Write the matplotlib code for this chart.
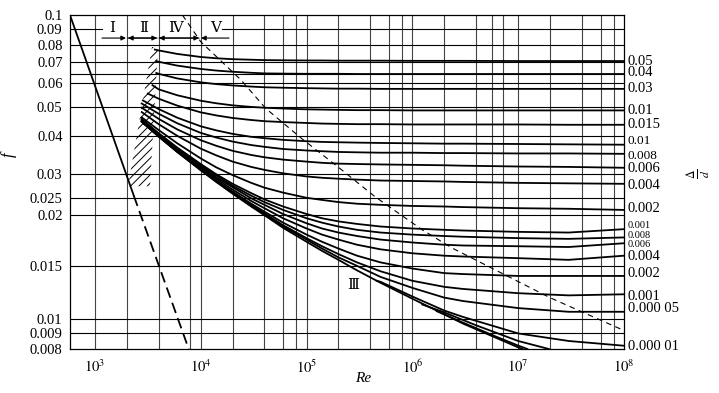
import matplotlib.pyplot as plt
from matplotlib.patches import Polygon
from matplotlib.ticker import NullLocator

plt.rcParams['font.family'] = ['Liberation Serif', 'DejaVu Serif']
plt.rcParams['mathtext.fontset'] = 'stix'
plt.rcParams['hatch.linewidth'] = 0.7

# Reynolds numbers where the curves were read
re_grid = [4e3, 6e3, 1e4, 1.4e4, 2e4, 3e4, 4e4, 6e4, 1e5, 1.4e5, 2e5, 3e5, 5e5,
           1e6, 2e6, 3e6, 1e7, 3e7, 1e8]

# friction factor curves, one per relative roughness (start point + values on re_grid)
curves = {
    "0.05":    ((3680, 0.0770), [0.0765, 0.0745, 0.0728, 0.0721, 0.0716, 0.0713, 0.0711, 0.0710, 0.0709, 0.0709,
                                 0.0708, 0.0708, 0.0708, 0.0707, 0.0707, 0.0707, 0.0706, 0.0706, 0.0706]),
    "0.04":    ((3800, 0.0706), [0.0702, 0.0682, 0.0665, 0.0657, 0.0651, 0.0646, 0.0643, 0.0642, 0.0641, 0.0641,
                                 0.0641, 0.0640, 0.0640, 0.0640, 0.0640, 0.0640, 0.0640, 0.0640, 0.0640]),
    "0.03":    ((3800, 0.0645), [0.0641, 0.0619, 0.0601, 0.0593, 0.0587, 0.0582, 0.0579, 0.0577, 0.0575, 0.0574,
                                 0.0573, 0.0573, 0.0572, 0.0572, 0.0572, 0.0572, 0.0572, 0.0572, 0.0572]),
    "0.02":    ((3500, 0.0588), [0.0570, 0.0545, 0.0523, 0.0513, 0.0505, 0.0499, 0.0496, 0.0493, 0.0490, 0.0489,
                                 0.0488, 0.0487, 0.0487, 0.0486, 0.0486, 0.0486, 0.0486, 0.0486, 0.0486]),
    "0.015":   ((3160, 0.0552), [0.0531, 0.0504, 0.0479, 0.0468, 0.0459, 0.0452, 0.0448, 0.0445, 0.0442, 0.0440,
                                 0.0439, 0.0438, 0.0438, 0.0437, 0.0437, 0.0437, 0.0437, 0.0436, 0.0436]),
    "0.01":    ((2840, 0.0524), [0.0491, 0.0460, 0.0431, 0.0418, 0.0407, 0.0398, 0.0394, 0.0389, 0.0385, 0.0383,
                                 0.0382, 0.0381, 0.0380, 0.0379, 0.0378, 0.0378, 0.0377, 0.0376, 0.0375]),
    "0.008":   ((2770, 0.0512), [0.0474, 0.0441, 0.0410, 0.0396, 0.0384, 0.0374, 0.0369, 0.0363, 0.0359, 0.0357,
                                 0.0355, 0.0354, 0.0353, 0.0353, 0.0352, 0.0352, 0.0351, 0.0351, 0.0350]),
    "0.006":   ((2770, 0.0496), [0.0456, 0.0421, 0.0388, 0.0372, 0.0358, 0.0347, 0.0341, 0.0335, 0.0330, 0.0327,
                                 0.0325, 0.0324, 0.0323, 0.0322, 0.0321, 0.0320, 0.0318, 0.0317, 0.0315]),
    "0.004":   ((2770, 0.0480), [0.0438, 0.0401, 0.0364, 0.0346, 0.0330, 0.0317, 0.0310, 0.0302, 0.0295, 0.0292,
                                 0.0290, 0.0288, 0.0286, 0.0285, 0.0284, 0.0283, 0.0281, 0.0280, 0.0279]),
    "0.002":   ((2770, 0.0461), [0.0419, 0.0379, 0.0338, 0.0316, 0.0298, 0.0281, 0.0271, 0.0261, 0.0251, 0.0247,
                                 0.0243, 0.0240, 0.0238, 0.0236, 0.0235, 0.0234, 0.0232, 0.0231, 0.0229]),
    "0.001":   ((2770, 0.0455), [0.0409, 0.0367, 0.0324, 0.0300, 0.0279, 0.0260, 0.0248, 0.0235, 0.0222, 0.0215,
                                 0.0210, 0.0206, 0.0202, 0.0199, 0.0197, 0.0196, 0.0194, 0.0193, 0.0198]),
    "0.0008":  ((2770, 0.0453), [0.0407, 0.0364, 0.0321, 0.0297, 0.0275, 0.0255, 0.0243, 0.0229, 0.0215, 0.0208,
                                 0.0202, 0.0197, 0.0193, 0.0190, 0.0188, 0.0187, 0.0185, 0.0184, 0.0186]),
    "0.0006":  ((2770, 0.0451), [0.0405, 0.0362, 0.0318, 0.0293, 0.0272, 0.0250, 0.0238, 0.0222, 0.0207, 0.0199,
                                 0.0193, 0.0188, 0.0183, 0.0179, 0.0176, 0.0175, 0.0174, 0.0173, 0.0178]),
    "0.0004":  ((2770, 0.0449), [0.0402, 0.0360, 0.0315, 0.0290, 0.0267, 0.0245, 0.0232, 0.0215, 0.0199, 0.0190,
                                 0.0183, 0.0176, 0.0170, 0.0165, 0.0162, 0.0161, 0.0159, 0.0157, 0.0162]),
    "0.0002":  ((2770, 0.0447), [0.0401, 0.0357, 0.0312, 0.0286, 0.0263, 0.0240, 0.0226, 0.0208, 0.0190, 0.0180,
                                 0.0171, 0.0162, 0.0154, 0.0147, 0.0142, 0.0141, 0.0139, 0.0139, 0.0139]),
    "0.0001":  ((2770, 0.0446), [0.0400, 0.0356, 0.0311, 0.0285, 0.0261, 0.0237, 0.0223, 0.0204, 0.0185, 0.0174,
                                 0.0164, 0.0154, 0.0144, 0.0134, 0.0128, 0.0126, 0.0122, 0.0120, 0.0121]),
    "0.00005": ((2770, 0.0446), [0.0399, 0.0355, 0.0310, 0.0284, 0.0260, 0.0236, 0.0221, 0.0202, 0.0183, 0.0171,
                                 0.0160, 0.0150, 0.0138, 0.0127, 0.0118, 0.0115, 0.0109, 0.0106, 0.0106]),
}

# curves drawn only from where they leave the smooth-pipe line
re_e1 = [4.6e5, 5e5, 1e6, 2e6, 3e6, 1e7, 3e7, 1e8]
f_e1 = [0.0134, 0.0133, 0.0119, 0.0107, 0.0102, 0.0090, 0.0085, 0.0082]
re_e2 = [1.24e6, 2e6, 4e6, 1e7, 1.95e7]
f_e2 = [0.0112, 0.01055, 0.00957, 0.0085, 0.0080]
re_e3 = [1.7e6, 3e6, 6e6, 1e7, 1.22e7]
f_e3 = [0.01065, 0.00977, 0.00882, 0.00821, 0.0080]

# smooth pipe line (III)
re_smooth = [2770, 4e3, 6e3, 1e4, 1.4e4, 2e4, 3e4, 4e4, 6e4, 1e5, 1.4e5, 2e5, 3e5, 5e5,
             1e6, 2e6, 3e6, 1e7, 1.09e7]
f_smooth = [0.0446, 0.0399, 0.0355, 0.0309, 0.0283, 0.0259, 0.0235, 0.0220, 0.0200, 0.0180, 0.0168,
            0.0157, 0.0145, 0.0132, 0.0117, 0.0104, 0.0097, 0.0081, 0.0080]

# laminar line, solid then dashed
re_lam = [581, 2330]
f_lam = [0.1, 0.0255]
re_lam2 = [2330, 7700]
f_lam2 = [0.0255, 0.008]

# boundary between transition and rough zone
re_bound = [6710, 1.0e4, 2.4e4, 4.1e4, 8.9e4, 1.96e5, 4.44e5, 1.24e6, 2.35e6, 1.99e7, 1e8]
f_bound = [0.1, 0.0817, 0.0612, 0.0494, 0.0394, 0.0318, 0.0253, 0.0197, 0.0172, 0.0118, 0.0092]

# hatched transition band
band_re = [3463, 3948, 3316, 2054]
band_f = [0.0785, 0.0785, 0.0274, 0.0274]

v_grid = [1e3, 2e3, 4e3, 8e3, 1e4, 2e4, 4e4, 6e4, 8e4, 1e5, 2e5, 4e5, 6e5, 8e5,
          1e6, 2e6, 4e6, 5.7e6, 7.2e6, 1e7, 2e7, 4e7, 6e7, 8e7]
h_grid = [0.08, 0.07, 0.064, 0.06, 0.05, 0.04, 0.03, 0.025, 0.022, 0.015, 0.01, 0.009]

y_ticks = [0.1, 0.09, 0.08, 0.07, 0.06, 0.05, 0.04, 0.03, 0.025, 0.022, 0.015, 0.01, 0.009, 0.008]
y_labels = ["0.1", "0.09", "0.08", "0.07", "0.06", "0.05", "0.04", "0.03", "0.025", "0.02",
            "0.015", "0.01", "0.009", "0.008"]
x_ticks = [1e3, 1e4, 1e5, 1e6, 1e7, 1e8]
x_labels = [r"$10^{3}$", r"$10^{4}$", r"$10^{5}$", r"$10^{6}$", r"$10^{7}$", r"$10^{8}$"]

right_text = ["0.05", "0.04", "0.03", "0.01", "0.015", "0.01", "0.008", "0.006", "0.004", "0.002",
              "0.001", "0.008", "0.006", "0.004", "0.002", "0.001", "0.000 05", "0.000 01"]
right_f = [0.0706, 0.0645, 0.0572, 0.0485, 0.0436, 0.0386, 0.0344, 0.0313, 0.0276, 0.0232,
           0.0203, 0.0189, 0.0176, 0.0161, 0.0142, 0.0119, 0.0109, 0.00814]
right_size = [10.5] * 5 + [9.5, 9.5] + [10.5] * 3 + [7.5] * 3 + [10.5] * 5

fig = plt.figure(figsize=(7.19, 3.93), dpi=100)
ax = fig.add_axes([69.5 / 719, 1 - 349 / 393, 554.5 / 719, 334 / 393])
ax.set_xscale('log')
ax.set_yscale('log')
ax.set_xlim(575, 1e8)
ax.set_ylim(0.008, 0.1)

for x in v_grid:
    ax.axvline(x, color='#444444', lw=0.8, zorder=1)
for y in h_grid:
    ax.axhline(y, color='black', lw=0.8, zorder=1)
ax.plot([575, 1166], [0.09, 0.09], color='black', lw=0.8, zorder=1)
ax.plot([15890, 1e8], [0.09, 0.09], color='black', lw=0.8, zorder=1)

for name, (start, vals) in curves.items():
    xs = [start[0]] + re_grid
    ys = [start[1]] + vals
    ax.plot(xs, ys, color='black', lw=1.3, zorder=3)
for xs, ys in [(re_e1, f_e1), (re_e2, f_e2), (re_e3, f_e3), (re_smooth, f_smooth)]:
    ax.plot(xs, ys, color='black', lw=1.3, zorder=3)

ax.plot(re_lam, f_lam, color='black', lw=1.3, zorder=3)
ax.plot(re_lam2, f_lam2, color='black', lw=1.3, dashes=(6, 3), zorder=3)
ax.plot(re_bound, f_bound, color='black', lw=0.8, dashes=(5, 4), zorder=3)

band = Polygon(list(zip(band_re, band_f)), closed=True, fill=False, hatch='////',
               linewidth=0, edgecolor='black', zorder=2)
ax.add_patch(band)

# zone labels and arrows
for txt, xr in [("Ⅰ", 1450), ("Ⅱ", 2910), ("Ⅳ", 5800), ("Ⅴ", 13940)]:
    ax.text(xr, 0.09, txt, ha='center', va='center', fontsize=11, zorder=4)
arrow = dict(arrowstyle='-|>', color='black', lw=0.8, mutation_scale=7, shrinkA=0, shrinkB=0)
for a, b in [(1166, 1967), (2054, 3862), (4033, 9631), (18500, 10060)]:
    ax.annotate('', xy=(b, 0.084), xytext=(a, 0.084), arrowprops=arrow)
for a, b in [(3862, 2054), (9631, 4033)]:
    ax.annotate('', xy=(b, 0.084), xytext=(a, 0.084), arrowprops=arrow)
ax.text(2.73e5, 0.0129, "Ⅲ", ha='center', va='center', fontsize=11, zorder=4)

ax.set_yticks(y_ticks)
ax.set_yticklabels(y_labels)
ax.set_xticks(x_ticks)
ax.set_xticklabels(x_labels)
ax.xaxis.set_minor_locator(NullLocator())
ax.yaxis.set_minor_locator(NullLocator())
ax.tick_params(axis='both', length=0, labelsize=10.5)
ax.tick_params(axis='y', pad=5)
ax.tick_params(axis='x', pad=7)
for s in ax.spines.values():
    s.set_linewidth(0.9)

ytr = ax.get_yaxis_transform()
for txt, fy, size in zip(right_text, right_f, right_size):
    ax.text(1.007, fy, txt, transform=ytr, ha='left', va='center',
            fontsize=size, clip_on=False)

fig.text(363 / 719, 1 - 379 / 393, "Re", style='italic', fontsize=11, ha='center', va='center')
fig.text(9 / 719, 1 - 155 / 393, "f", style='italic', fontsize=12, rotation=90, ha='center', va='center')
fig.text(698 / 719, 1 - 174 / 393, r"$\frac{\Delta}{d}$", fontsize=12, rotation=90, ha='center', va='center')

fig.savefig("out.png", dpi=100)
